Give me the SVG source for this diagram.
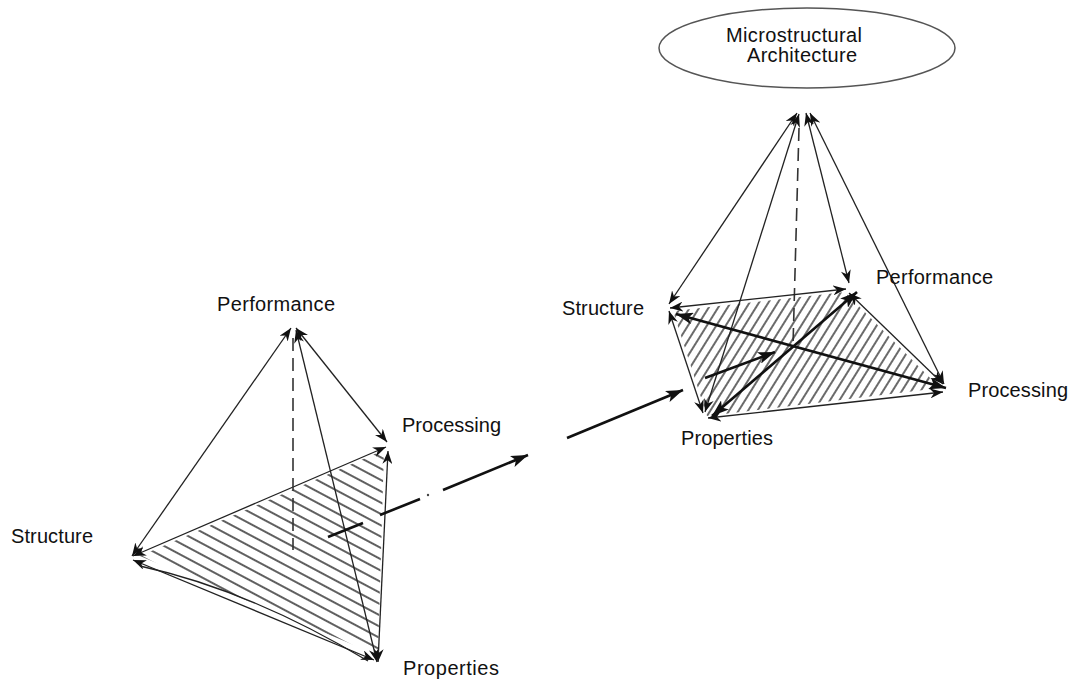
<svg xmlns="http://www.w3.org/2000/svg" width="1075" height="682" viewBox="0 0 1075 682">
<style>
.lbl{font-family:"Liberation Sans",Arial,sans-serif;font-size:20px;fill:#111}
.e{stroke:#222;stroke-width:1.3;fill:none}
.t{stroke:#111;stroke-width:2.6;fill:none}
.d{stroke:#333;stroke-width:1.6;fill:none;stroke-dasharray:13 7}
.arr{marker-start:url(#ah);marker-end:url(#ah)}
.one{marker-end:url(#ah)}
.tarr{marker-start:url(#ahb);marker-end:url(#ahb)}
.tone{marker-end:url(#ahb)}
</style>
<defs>
<marker id="ah" markerWidth="14" markerHeight="10" refX="13" refY="5" orient="auto-start-reverse" markerUnits="userSpaceOnUse">
<path d="M0,0 L13,5 L0,10 L4,5 z" fill="#111"/>
</marker>
<marker id="ahb" markerWidth="18" markerHeight="12" refX="17" refY="6" orient="auto-start-reverse" markerUnits="userSpaceOnUse">
<path d="M0,0 L17,6 L0,12 L4,6 z" fill="#111"/>
</marker>
<pattern id="hatchL" width="12" height="10" patternUnits="userSpaceOnUse" patternTransform="rotate(28)">
<line x1="0" y1="5" x2="12" y2="5" stroke="#2a2a2a" stroke-width="1.5"/>
</pattern>
<pattern id="hatchR" width="12" height="8" patternUnits="userSpaceOnUse" patternTransform="rotate(-58)">
<line x1="0" y1="4" x2="12" y2="4" stroke="#2a2a2a" stroke-width="1.4"/>
</pattern>
</defs>
<rect width="1075" height="682" fill="#fff"/>

<g id="hatching">
<polygon points="140,556 384,450 378,655" fill="url(#hatchL)"/>
<polygon points="673,311 845,292 940,388 707,416" fill="url(#hatchR)"/>
</g>

<g id="connectors">
<!-- left tetrahedron -->
<line class="e arr" x1="291" y1="328" x2="132" y2="556"/>
<line class="e arr" x1="296" y1="328" x2="387" y2="442"/>
<line class="e arr" x1="296" y1="330" x2="377" y2="662"/>
<line class="e arr" x1="133" y1="556" x2="386" y2="447"/>
<line class="e arr" x1="388" y1="451" x2="378" y2="662"/>
<line class="e arr" x1="133" y1="560" x2="374" y2="660"/>
<path class="e" d="M140,566 Q250,590 368,661"/>
<line class="d" x1="293" y1="338" x2="293" y2="550"/>
<!-- transition arrow -->
<line class="t" x1="328" y1="537" x2="363" y2="523"/>
<line class="t" x1="380" y1="515" x2="420" y2="499"/>
<circle cx="428" cy="495" r="1.2" fill="#444"/>
<line class="t tone" x1="443" y1="490" x2="528" y2="455"/>
<!-- right tetrahedron -->
<line class="e arr" x1="797" y1="113" x2="669" y2="304"/>
<line class="e arr" x1="799" y1="114" x2="705" y2="412"/>
<line class="e arr" x1="806" y1="113" x2="849" y2="283"/>
<line class="e arr" x1="810" y1="113" x2="944" y2="384"/>
<line class="d" x1="799" y1="128" x2="793" y2="345"/>
<line class="e arr" x1="670" y1="308" x2="846" y2="289"/>
<line class="e arr" x1="849" y1="293" x2="943" y2="384"/>
<line class="e arr" x1="943" y1="392" x2="708" y2="418"/>
<line class="e arr" x1="703" y1="413" x2="669" y2="311"/>
<line class="t tarr" x1="676" y1="314" x2="946" y2="388"/>
<line class="t tarr" x1="712" y1="416" x2="857" y2="292"/>
<line class="t tone" x1="705" y1="378" x2="775" y2="352"/>
<line class="t tone" x1="567" y1="438" x2="683" y2="390"/>
</g>

<g id="node-architecture">
<ellipse cx="807" cy="48" rx="148" ry="40" fill="none" stroke="#555" stroke-width="1.5"/>
<text class="lbl" x="726" y="42" textLength="136">Microstructural</text>
<text class="lbl" x="747" y="62" textLength="110">Architecture</text>
</g>
<g id="node-performance-left"><text class="lbl" x="217" y="311" textLength="118">Performance</text></g>
<g id="node-processing-left"><text class="lbl" x="402" y="432" textLength="99">Processing</text></g>
<g id="node-structure-left"><text class="lbl" x="11" y="543" textLength="82">Structure</text></g>
<g id="node-properties-left"><text class="lbl" x="403" y="675" textLength="96">Properties</text></g>
<g id="node-structure-right"><text class="lbl" x="562" y="315" textLength="82">Structure</text></g>
<g id="node-performance-right"><text class="lbl" x="876" y="284" textLength="117">Performance</text></g>
<g id="node-processing-right"><text class="lbl" x="968" y="397" textLength="100">Processing</text></g>
<g id="node-properties-right"><text class="lbl" x="681" y="445" textLength="92">Properties</text></g>
</svg>
